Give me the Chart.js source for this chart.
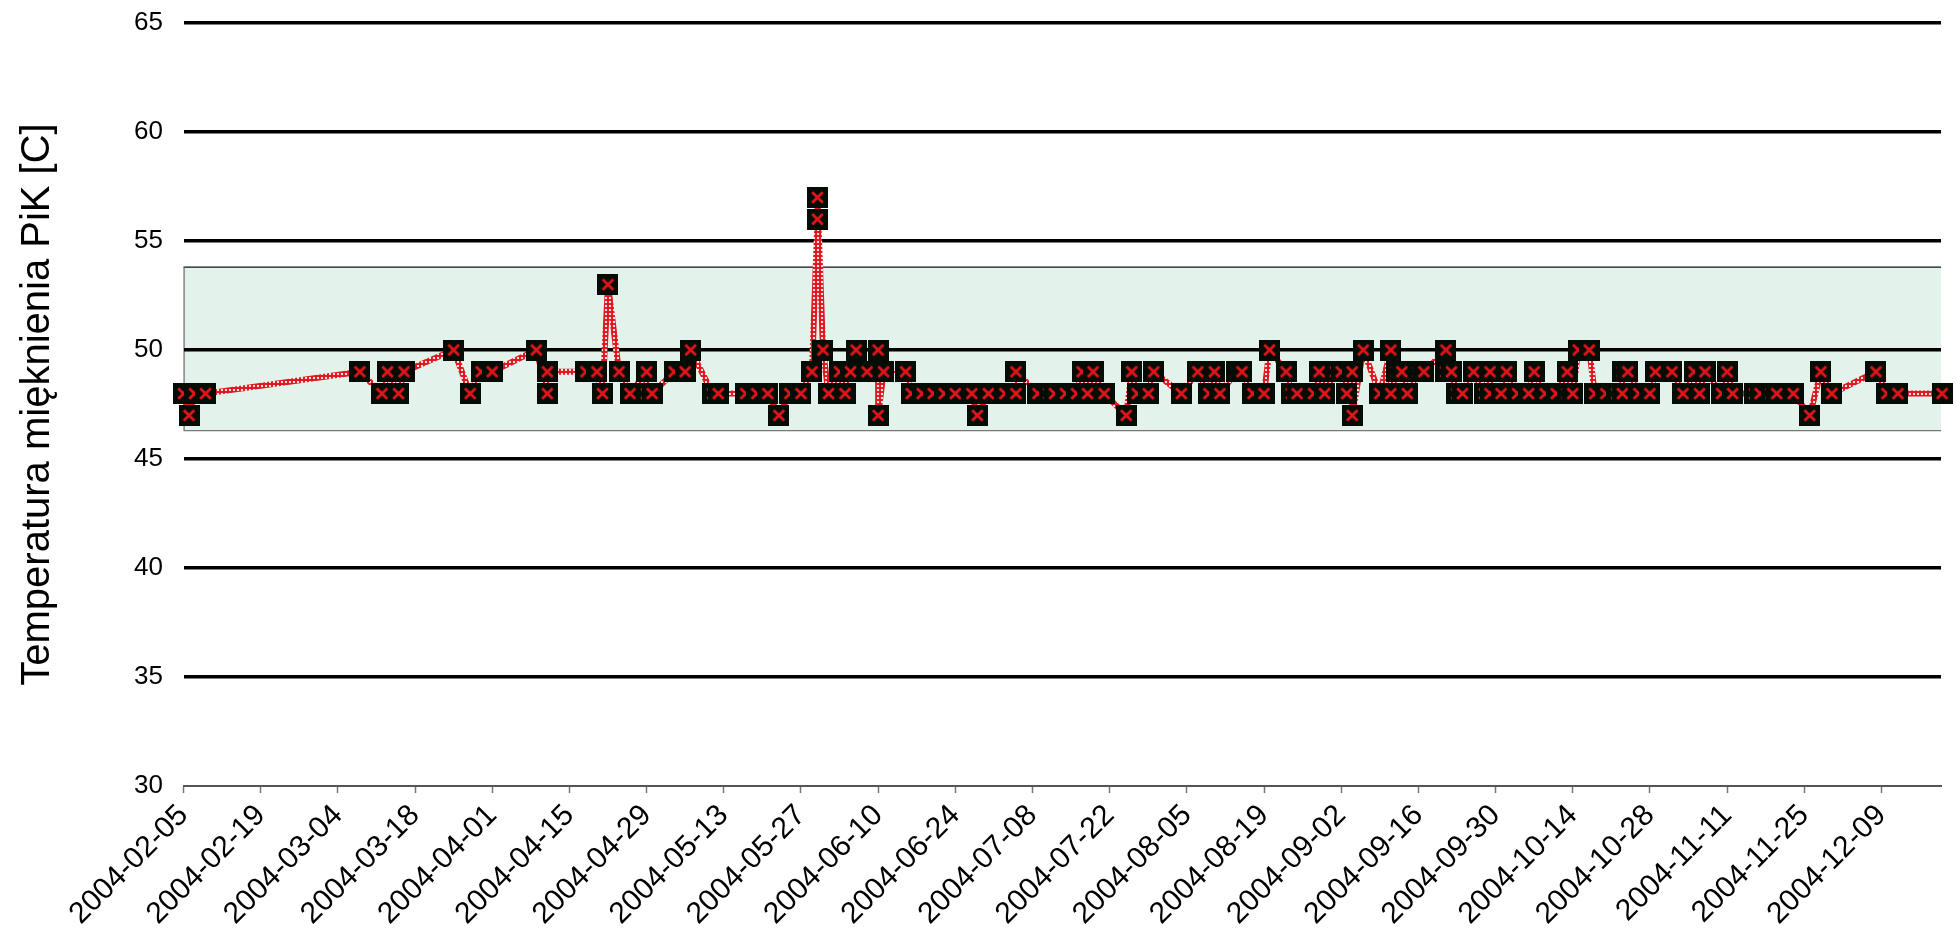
<!DOCTYPE html>
<html><head><meta charset="utf-8">
<script src="https://cdn.jsdelivr.net/npm/chart.js@4.4.1/dist/chart.umd.min.js"></script>
<style>html,body{margin:0;padding:0;background:#fff;overflow:hidden}canvas{display:block}</style>
</head><body>
<canvas id="c" width="1957" height="931"></canvas>
<script>
// ---- data ----
const startDate = '2004-02-05';
const dates = [
 '2004-02-05','2004-02-06','2004-02-07','2004-02-09',
 '2004-03-08','2004-03-12','2004-03-13','2004-03-15','2004-03-16','2004-03-25','2004-03-28','2004-03-30',
 '2004-04-01','2004-04-09','2004-04-11','2004-04-11','2004-04-18','2004-04-20','2004-04-21','2004-04-22','2004-04-24','2004-04-26','2004-04-29','2004-04-29','2004-04-30',
 '2004-05-04','2004-05-06','2004-05-07','2004-05-11','2004-05-12','2004-05-17','2004-05-19','2004-05-21','2004-05-23','2004-05-25','2004-05-27','2004-05-29','2004-05-30','2004-05-30','2004-05-31',
 '2004-06-01','2004-06-03','2004-06-04','2004-06-05','2004-06-06','2004-06-08','2004-06-10','2004-06-10','2004-06-11','2004-06-15','2004-06-16','2004-06-18','2004-06-20','2004-06-22','2004-06-24','2004-06-27','2004-06-28','2004-06-30',
 '2004-07-03','2004-07-05','2004-07-05','2004-07-09','2004-07-11','2004-07-12','2004-07-14','2004-07-16','2004-07-17','2004-07-18','2004-07-19','2004-07-21','2004-07-25','2004-07-26','2004-07-27','2004-07-29','2004-07-30',
 '2004-08-04','2004-08-07','2004-08-09','2004-08-10','2004-08-11','2004-08-14','2004-08-15','2004-08-17','2004-08-19','2004-08-20','2004-08-23','2004-08-24','2004-08-25','2004-08-28','2004-08-29','2004-08-30',
 '2004-09-01','2004-09-02','2004-09-03','2004-09-04','2004-09-04','2004-09-06','2004-09-09','2004-09-11','2004-09-11','2004-09-12','2004-09-13','2004-09-14','2004-09-16','2004-09-17','2004-09-21','2004-09-21','2004-09-22','2004-09-23','2004-09-24','2004-09-26','2004-09-28','2004-09-29','2004-09-29',
 '2004-10-01','2004-10-02','2004-10-04','2004-10-06','2004-10-07','2004-10-09','2004-10-11','2004-10-13','2004-10-13','2004-10-14','2004-10-15','2004-10-17','2004-10-18','2004-10-20','2004-10-22','2004-10-23','2004-10-23','2004-10-24','2004-10-26','2004-10-28','2004-10-29',
 '2004-11-01','2004-11-03','2004-11-05','2004-11-06','2004-11-07','2004-11-10','2004-11-11','2004-11-12','2004-11-16','2004-11-17','2004-11-19','2004-11-20','2004-11-23','2004-11-26','2004-11-28','2004-11-30',
 '2004-12-08','2004-12-10','2004-12-12','2004-12-20'
];
const values = [
 48,47,48,48,
 49,48,49,48,49,50,48,49,
 49,50,48,49,49,49,48,53,49,48,49,48,48,
 49,49,50,48,48,48,48,48,47,48,48,49,56,57,50,
 48,49,48,49,50,49,50,47,49,49,48,48,48,48,48,48,47,48,
 48,48,49,48,48,48,48,48,49,48,49,48,47,49,48,48,49,
 48,49,48,49,48,49,49,48,48,50,49,48,48,48,49,48,
 49,49,48,49,47,50,48,50,48,49,49,48,49,49,50,49,49,48,48,49,48,49,48,
 48,49,48,48,49,48,48,49,48,48,50,50,48,48,48,48,49,49,48,48,49,
 49,48,49,48,49,48,49,48,48,48,48,48,48,47,49,48,
 49,48,48,48
];
const tickLabels = ['2004-02-05','2004-02-19','2004-03-04','2004-03-18','2004-04-01','2004-04-15','2004-04-29',
 '2004-05-13','2004-05-27','2004-06-10','2004-06-24','2004-07-08','2004-07-22','2004-08-05','2004-08-19',
 '2004-09-02','2004-09-16','2004-09-30','2004-10-14','2004-10-28','2004-11-11','2004-11-25','2004-12-09'];
const yTicks = [30,35,40,45,50,55,60,65];
const bandLow = 46.3, bandHigh = 53.8;
const yTitle = 'Temperatura mięknienia PiK [C]';
const xMaxDay = 318.8;

// ---- helpers ----
const base = Date.parse(startDate + 'T00:00:00Z');
const dayOf = s => (Date.parse(s + 'T00:00:00Z') - base) / 86400000;
const FONT = "'Liberation Sans', Arial, sans-serif";

function makeMarker(){
  const s = 21, c = document.createElement('canvas'); c.width = s; c.height = s;
  const g = c.getContext('2d');
  g.fillStyle = '#030d05'; g.fillRect(0,0,s,s);
  g.strokeStyle = '#e3151b'; g.lineWidth = 2.8;
  g.beginPath(); g.moveTo(5.2,5.2); g.lineTo(15.8,15.8); g.moveTo(15.8,5.2); g.lineTo(5.2,15.8); g.stroke();
  return c;
}
function makeLinePattern(){
  const c = document.createElement('canvas'); c.width = 4; c.height = 4;
  const g = c.getContext('2d');
  g.fillStyle = '#e01a22'; g.fillRect(0,0,4,4);
  g.fillStyle = '#fbe0e0'; g.fillRect(1,1,2,2);
  return g.createPattern(c, 'repeat');
}

const bandPlugin = {
  id: 'band',
  beforeDraw(chart){
    const {ctx, chartArea: a, scales: {y}} = chart;
    const yt = y.getPixelForValue(bandHigh), yb = y.getPixelForValue(bandLow);
    ctx.save();
    ctx.fillStyle = '#e3f2ea';
    ctx.fillRect(a.left, yt, a.right - a.left, yb - yt);
    ctx.lineWidth = 1.3;
    ctx.strokeStyle = '#111';
    ctx.beginPath(); ctx.moveTo(a.left, yt); ctx.lineTo(a.right, yt); ctx.stroke();
    ctx.strokeStyle = '#777';
    ctx.beginPath(); ctx.moveTo(a.left + 0.6, yt); ctx.lineTo(a.left + 0.6, yb); ctx.lineTo(a.right, yb); ctx.stroke();
    ctx.restore();
  }
};

const points = dates.map((d, i) => ({x: dayOf(d), y: values[i]}));

new Chart(document.getElementById('c'), {
  type: 'line',
  data: { datasets: [{
    data: points,
    borderColor: makeLinePattern(),
    borderWidth: 6,
    borderJoinStyle: 'bevel',
    pointStyle: makeMarker(),
    pointRadius: 10, pointHoverRadius: 10,
    tension: 0, fill: false, clip: false
  }]},
  options: {
    responsive: false, animation: false, devicePixelRatio: 1, events: [],
    layout: { padding: {top: 23, left: 0, right: 0, bottom: 0} },
    plugins: { legend: {display: false}, tooltip: {enabled: false} },
    scales: {
      x: {
        type: 'linear', min: 0, max: xMaxDay,
        afterBuildTicks: s => { s.ticks = tickLabels.map(l => ({value: dayOf(l)})); },
        afterFit: s => { s.height = 145; },
        grid: { drawOnChartArea: false, drawTicks: true, tickLength: 7, tickColor: '#777', tickWidth: 1.5 },
        border: { display: true, color: '#555', width: 2 },
        ticks: { autoSkip: false, minRotation: 45, maxRotation: 45, padding: 5, color: '#000',
                 font: {family: FONT, size: 30}, callback: (v, i) => tickLabels[i] }
      },
      y: {
        min: 30, max: 65,
        afterBuildTicks: s => { s.ticks = yTicks.map(v => ({value: v})); },
        afterFit: s => { s.width = 183.5; s.paddingTop = 10; s.paddingBottom = 10; },
        grid: { color: c => (c.tick && c.tick.value === 30) ? 'rgba(0,0,0,0)' : '#000', lineWidth: 3.5, drawTicks: false },
        border: { display: false },
        ticks: { padding: 20.5, color: '#000', font: {family: FONT, size: 26} },
        title: { display: true, text: yTitle, color: '#000', font: {family: FONT, size: 40}, padding: {top: 14, bottom: 0} }
      }
    }
  },
  plugins: [bandPlugin]
});
</script>
</body></html>
